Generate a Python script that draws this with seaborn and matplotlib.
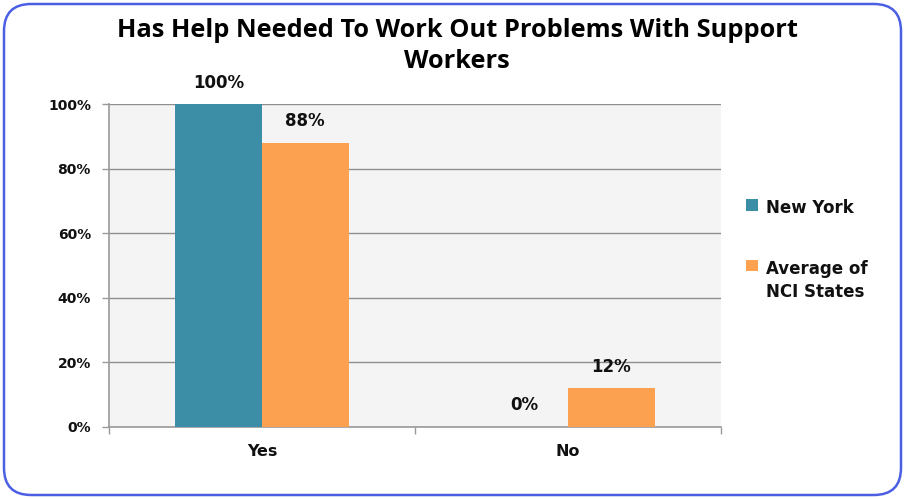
import matplotlib
matplotlib.use("Agg")
import matplotlib.pyplot as plt
import seaborn as sns
import pandas as pd
from matplotlib.patches import FancyBboxPatch, Patch
from matplotlib.ticker import FuncFormatter

categories = ["Yes", "No"]
series_names = ["New York", "Average of\nNCI States"]
new_york = [100, 0]
nci_avg = [88, 12]
yticks = [0, 20, 40, 60, 80, 100]
title = "Has Help Needed To Work Out Problems With Support\nWorkers"
colors = ["#3B8EA6", "#FBA150"]

df = pd.DataFrame({
    "Category": categories * 2,
    "Series": [series_names[0]] * 2 + [series_names[1]] * 2,
    "Value": new_york + nci_avg,
})

sns.set_theme(style="white")
plt.rcParams["font.family"] = ["DejaVu Sans"]

fig = plt.figure(figsize=(9.05, 4.99), dpi=100)
ax = fig.add_axes([109/905, 1-427/499, (721-109)/905, (427-104)/499])

sns.barplot(data=df, x="Category", y="Value", hue="Series", order=categories,
            hue_order=series_names, palette=colors, width=0.566, gap=0,
            saturation=1, ax=ax, legend=False, zorder=3, linewidth=0)

ax.set_facecolor("#F4F4F4")
ax.set_ylim(0, 100)
ax.set_xlim(-0.5, 1.5)
ax.set_yticks(yticks)
ax.yaxis.set_major_formatter(FuncFormatter(lambda v, p: f"{int(v)}%"))
ax.grid(axis="y", color="#8F8F8F", linewidth=1, zorder=0)
ax.set_axisbelow(True)
for s in ["top", "right"]:
    ax.spines[s].set_visible(False)
for s in ["left", "bottom"]:
    ax.spines[s].set_color("#9A9A9A")
    ax.spines[s].set_linewidth(1.2)
ax.tick_params(axis="y", length=5, width=1, color="#9A9A9A", direction="out",
               labelsize=10, pad=8, left=True)
ax.tick_params(axis="x", which="major", length=0, labelsize=11.5, pad=12)
ax.set_xticks([-0.5, 0.5, 1.5], minor=True)
ax.tick_params(axis="x", which="minor", length=5, width=1, color="#9A9A9A", bottom=True)
for lbl in ax.get_yticklabels() + ax.get_xticklabels():
    lbl.set_fontweight("bold")
    lbl.set_color("#111111")
ax.set_xlabel("")
ax.set_ylabel("")

for cont in ax.containers:
    ax.bar_label(cont, labels=[f"{int(v)}%" for v in cont.datavalues], padding=9,
                 fontsize=12, fontweight="bold", color="#111111")

fig.text(0.505, 1-46/499, title, ha="center", va="center", fontsize=18.3,
         fontweight="bold", family=["Open Sans", "DejaVu Sans"], linespacing=1.3,
         color="#000000")

handles = [Patch(facecolor=c, edgecolor="none") for c in colors]
leg = fig.legend(handles, series_names, loc="upper left", bbox_to_anchor=(731/905, 1-184/499),
                 frameon=False, handlelength=0.7, handleheight=0.7, handletextpad=0.5,
                 labelspacing=2.56, prop={"size": 12, "weight": "bold"})
for t in leg.get_texts():
    t.set_linespacing(1.35)
    t.set_color("#111111")
# align the marker with the first line of each label
try:
    for col in leg._legend_handle_box.get_children():
        for item in col.get_children():
            item.align = "top"
except Exception:
    pass

border = FancyBboxPatch((4/905, 4/499), 897/905, 491/499,
                        boxstyle="round,pad=0,rounding_size=0.03",
                        transform=fig.transFigure, facecolor="none",
                        edgecolor="#4B5FE3", linewidth=1.8, mutation_aspect=905/499)
fig.patches.append(border)

fig.savefig("out.png", dpi=100)
